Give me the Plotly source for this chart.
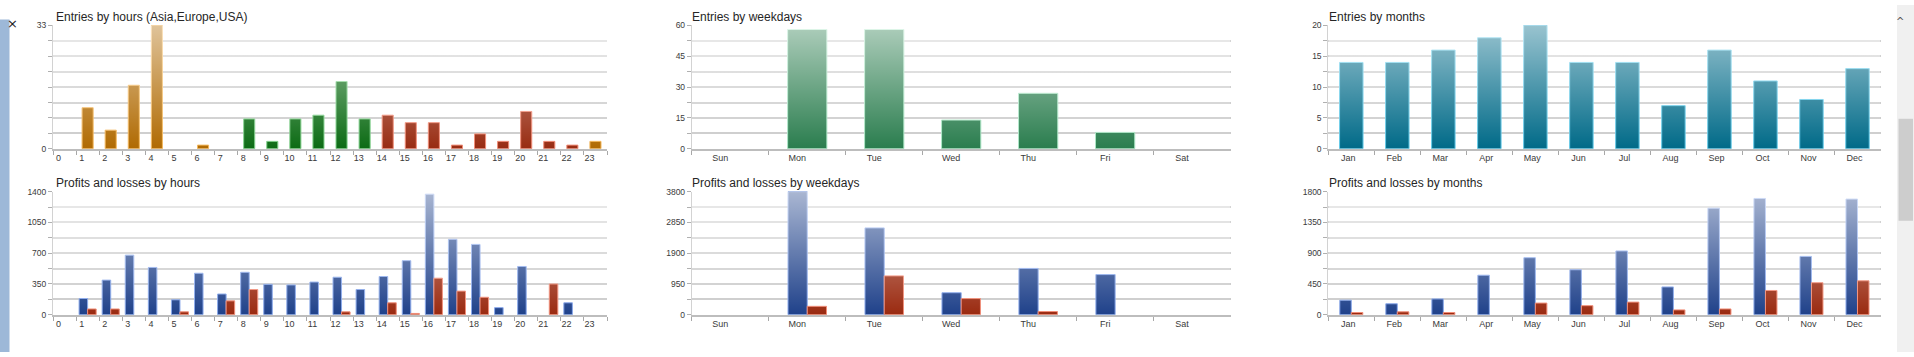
import base64
import plotly.graph_objects as go

# ---------------- data ----------------
hours = [str(h) for h in range(24)]
hour_entries = [0, 11, 5, 17, 33, 0, 1, 0, 8, 2, 8, 9, 18, 8, 9, 7, 7, 1, 4, 2, 10, 2, 1, 2]
hour_session = ["Asia"] * 8 + ["Europe"] * 6 + ["USA"] * 9 + ["Asia"]
hour_profits = [0, 185, 394, 678, 538, 170, 472, 236, 483, 346, 339, 372, 427, 287, 435, 615,
                1371, 858, 800, 81, 549, 0, 136, 0]
hour_losses = [0, 66, 66, 0, 0, 33, 0, 158, 287, 0, 0, 0, 33, 0, 136, 15,
               416, 269, 199, 0, 0, 350, 0, 0]

weekdays = ["Sun", "Mon", "Tue", "Wed", "Thu", "Fri", "Sat"]
weekday_entries = [0, 58, 58, 14, 27, 8, 0]
weekday_profits = [0, 3800, 2680, 680, 1430, 1240, 0]
weekday_losses = [0, 260, 1200, 500, 100, 0, 0]

months = ["Jan", "Feb", "Mar", "Apr", "May", "Jun", "Jul", "Aug", "Sep", "Oct", "Nov", "Dec"]
month_entries = [14, 14, 16, 18, 20, 14, 14, 7, 16, 11, 8, 13]
month_profits = [213, 161, 232, 578, 834, 658, 933, 407, 1558, 1700, 853, 1691]
month_losses = [33, 43, 33, 0, 171, 133, 185, 71, 85, 355, 469, 497]

titles = ["Entries by hours (Asia,Europe,USA)", "Entries by weekdays", "Entries by months",
          "Profits and losses by hours", "Profits and losses by weekdays", "Profits and losses by months"]

# ---------------- styles ----------------
W, H = 1914, 357
FONT = "Liberation Sans, Arial, sans-serif"
session_fill = {"Asia": "#b06a02", "Europe": "#0c6b14", "USA": "#982c12"}
session_line = {"Asia": "#f3b65a", "Europe": "#7fd08a", "USA": "#f08a74"}
BLUE, BLUE_LINE = "#1f418a", "#86a6ea"
RED, RED_LINE = "#9a2a10", "#f08a74"

def px_x(x):
    return x / W

def px_y(y):
    return 1 - y / H

col_dom = [[px_x(53), px_x(607)], [px_x(691.8), px_x(1230.6)], [px_x(1328.3), px_x(1880.5)]]
row_dom = [[px_y(148), px_y(21)], [px_y(318.7), px_y(192)]]

fig = go.Figure()

def bar(x, y, axis, color, line, width, offset=None):
    kw = dict(x=x, y=y, xaxis="x" + axis, yaxis="y" + axis, width=width,
              marker=dict(color=color,
                          line=dict(color=line, width=[1 if v else 0 for v in y])),
              showlegend=False, hoverinfo="x+y")
    if offset is not None:
        kw["offset"] = offset
    fig.add_trace(go.Bar(**kw))

# row 1
bar(hours, hour_entries, "", [session_fill[s] for s in hour_session],
    [session_line[s] for s in hour_session], 0.48)
bar(weekdays, weekday_entries, "2", "#2a7d4e", "#a9e6c4", 0.51)
bar(months, month_entries, "3", "#006a88", "#5fc9e8", 0.51)
# row 2
bar(hours, hour_profits, "4", BLUE, BLUE_LINE, 0.37, -0.37)
bar(hours, hour_losses, "4", RED, RED_LINE, 0.37, 0.0)
bar(weekdays, weekday_profits, "5", BLUE, BLUE_LINE, 0.25, -0.25)
bar(weekdays, weekday_losses, "5", RED, RED_LINE, 0.25, 0.0)
bar(months, month_profits, "6", BLUE, BLUE_LINE, 0.25, -0.25)
bar(months, month_losses, "6", RED, RED_LINE, 0.25, 0.0)

# axes
shifts = [-6, -10, -3, -6, -10, -3]
yspecs = [
    dict(range=[0, 33], tickmode="array", tickvals=[0, 33], minor_dtick=33 / 8),
    dict(range=[0, 60], tickmode="linear", tick0=0, dtick=15, minor_dtick=7.5),
    dict(range=[0, 20], tickmode="linear", tick0=0, dtick=5, minor_dtick=2.5),
    dict(range=[0, 1400], tickmode="linear", tick0=0, dtick=350, minor_dtick=175),
    dict(range=[0, 3800], tickmode="linear", tick0=0, dtick=950, minor_dtick=475),
    dict(range=[0, 1800], tickmode="linear", tick0=0, dtick=450, minor_dtick=225),
]
GRID = "#cbcbcb"
layout = dict(width=W, height=H, autosize=False, margin=dict(l=0, r=0, t=0, b=0),
              paper_bgcolor="white", plot_bgcolor="white", barmode="group",
              font=dict(family=FONT, color="#333333"))
for i in range(6):
    suffix = "" if i == 0 else str(i + 1)
    r, c = divmod(i, 3)
    ys = dict(yspecs[i])
    md = ys.pop("minor_dtick")
    layout["xaxis" + suffix] = dict(
        domain=col_dom[c], anchor="y" + suffix, type="category", tickson="boundaries",
        ticks="outside", ticklen=4, tickcolor="#a8a8a8", showline=True, linecolor="#bdbdbd",
        linewidth=1.5, showgrid=False, zeroline=False, fixedrange=True,
        tickfont=dict(size=9, color="#3a3a3a", family=FONT), ticklabelshift=shifts[i],
        range=[-0.5, [24, 7, 12][c] - 0.5])
    layout["yaxis" + suffix] = dict(
        domain=row_dom[r], anchor="x" + suffix, showline=True, linecolor="#d2d2d2", linewidth=1,
        ticks="outside", ticklen=4, tickcolor="#b0b0b0", showgrid=True, gridcolor=GRID,
        gridwidth=1.5, zeroline=False, fixedrange=True,
        tickfont=dict(size=8.5, color="#3a3a3a", family=FONT),
        minor=dict(tickmode="linear", tick0=0, dtick=md, showgrid=True, gridcolor=GRID,
                   gridwidth=1.5, ticks="outside", ticklen=4, tickcolor="#b0b0b0"),
        **ys)
fig.update_layout(**layout)

# per-bar vertical gradient impression: white fade over each plot area
def grad_uri(alpha):
    svg = ('<svg xmlns="http://www.w3.org/2000/svg" width="100" height="100" viewBox="0 0 100 100" '
           'preserveAspectRatio="none"><defs><linearGradient id="g" x1="0" y1="0" x2="0" y2="1">'
           f'<stop offset="0" stop-color="#ffffff" stop-opacity="{alpha}"/>'
           '<stop offset="1" stop-color="#ffffff" stop-opacity="0"/></linearGradient></defs>'
           '<rect x="0" y="0" width="100" height="100" fill="url(#g)"/></svg>')
    return "data:image/svg+xml;base64," + base64.b64encode(svg.encode()).decode()

alphas = [0.6, 0.62, 0.6, 0.62, 0.62, 0.62]
images = []
for i in range(6):
    suffix = "" if i == 0 else str(i + 1)
    images.append(dict(source=grad_uri(alphas[i]), xref="x" + suffix + " domain",
                       yref="y" + suffix + " domain", x=0, y=1, sizex=1, sizey=1,
                       xanchor="left", yanchor="top", sizing="stretch", layer="above"))
fig.update_layout(images=images)

# titles
title_pos = [(54, 12.7), (690, 12.7), (1327, 12.7), (54, 183), (690, 183), (1327, 183)]
for t, (tx, ty) in zip(titles, title_pos):
    fig.add_annotation(text=t, xref="paper", yref="paper", x=px_x(tx), y=px_y(ty),
                       xanchor="left", yanchor="middle", showarrow=False,
                       font=dict(size=12, color="#262626", family=FONT))

# window chrome: left strip, close mark, scrollbar
shapes = [
    dict(type="rect", xref="paper", yref="paper", x0=0, x1=px_x(9.5), y0=0, y1=px_y(15),
         fillcolor="#9db8d8", line=dict(width=0), layer="below"),
    dict(type="rect", xref="paper", yref="paper", x0=px_x(1897), x1=1, y0=0, y1=1,
         fillcolor="#f0f0f0", line=dict(width=0), layer="below"),
    dict(type="rect", xref="paper", yref="paper", x0=px_x(1898.5), x1=px_x(1913), y0=px_y(222),
         y1=px_y(117), fillcolor="#cdcdcd", line=dict(width=0), layer="below"),
]
fig.update_layout(shapes=shapes)
fig.add_annotation(text="×", xref="paper", yref="paper", x=px_x(4.5), y=px_y(9.5),
                   showarrow=False, font=dict(size=13, color="#222222", family="DejaVu Sans"))
fig.add_annotation(text="^", xref="paper", yref="paper", x=px_x(1905.5), y=px_y(9),
                   showarrow=False, font=dict(size=10, color="#555555", family="DejaVu Sans"))

fig.write_html("out.html", config={"displayModeBar": False},
               post_script="document.body.style.margin='0';document.body.style.overflow='hidden';")
